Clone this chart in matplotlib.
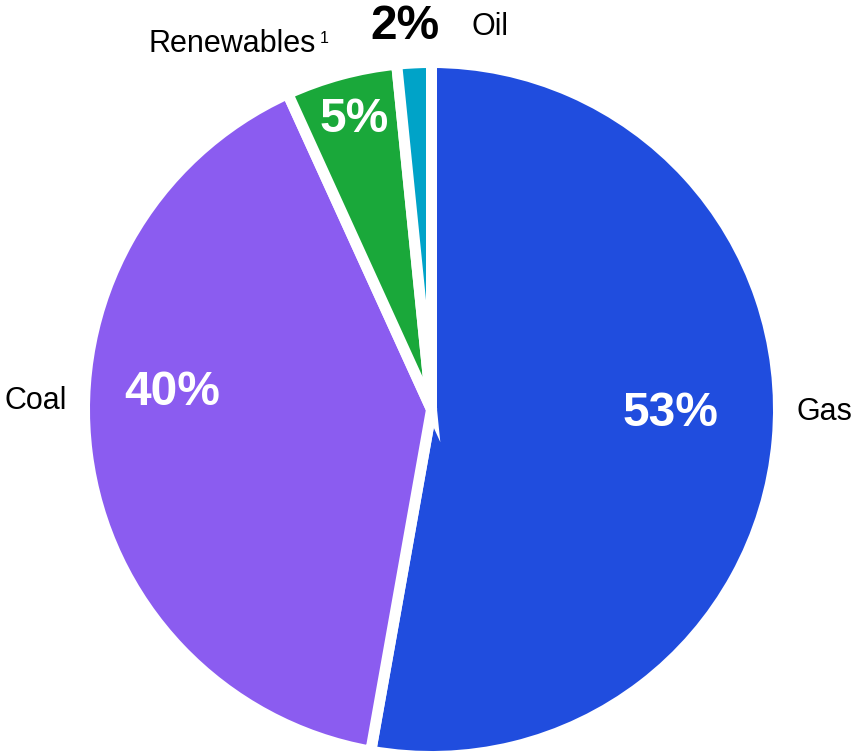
import matplotlib
matplotlib.use("Agg")
import matplotlib.pyplot as plt
import numpy as np

categories = ["Gas", "Coal", "Renewables", "Oil"]
footnotes = ["", "", "1", ""]
values = [52.8, 40.4, 5.2, 1.6]
pct_labels = ["53%", "40%", "5%", "2%"]
colors = ["#204DDE", "#8B5CF0", "#1AA83A", "#00A3C8"]

W, H = 854, 752
fig = plt.figure(figsize=(W / 100, H / 100), dpi=100)
ax = fig.add_axes([0, 0, 1, 1])

gap_px = 11
cx, cy = 431.5, H - 409.5
radius = 341.5 + gap_px / 2

ax.pie(values, colors=colors, startangle=90, counterclock=False,
       center=(cx, cy), radius=radius, frame=True,
       wedgeprops=dict(edgecolor="white", linewidth=gap_px * 0.72))
ax.set_xlim(0, W)
ax.set_ylim(0, H)
ax.set_aspect("equal")
ax.axis("off")

font = "Liberation Sans"
# percentage labels (image-pixel positions: centre x, baseline y)
pct_pos = [(670, 426), (172, 405), (354.5, 132), (405, 39)]
pct_col = ["white", "white", "white", "black"]
for txt, (x, y), c in zip(pct_labels, pct_pos, pct_col):
    ax.text(x, H - y, txt, ha="center", va="baseline", fontsize=34.5,
            fontweight="bold", color=c, family=font)

# category labels (left x, baseline y)
cat_pos = [(797, 420), (5, 409), (149, 52), (472, 35)]
renderer = fig.canvas.get_renderer()
for txt, note, (x, y) in zip(categories, footnotes, cat_pos):
    t = ax.text(x, H - y, txt, ha="left", va="baseline", fontsize=22,
                color="black", family=font)
    if note:
        bb = t.get_window_extent(renderer=renderer)
        ax.text(bb.x1 + 3, H - y + 9, note, ha="left", va="baseline",
                fontsize=11.5, color="black", family=font)

fig.savefig("out.png", dpi=100)
